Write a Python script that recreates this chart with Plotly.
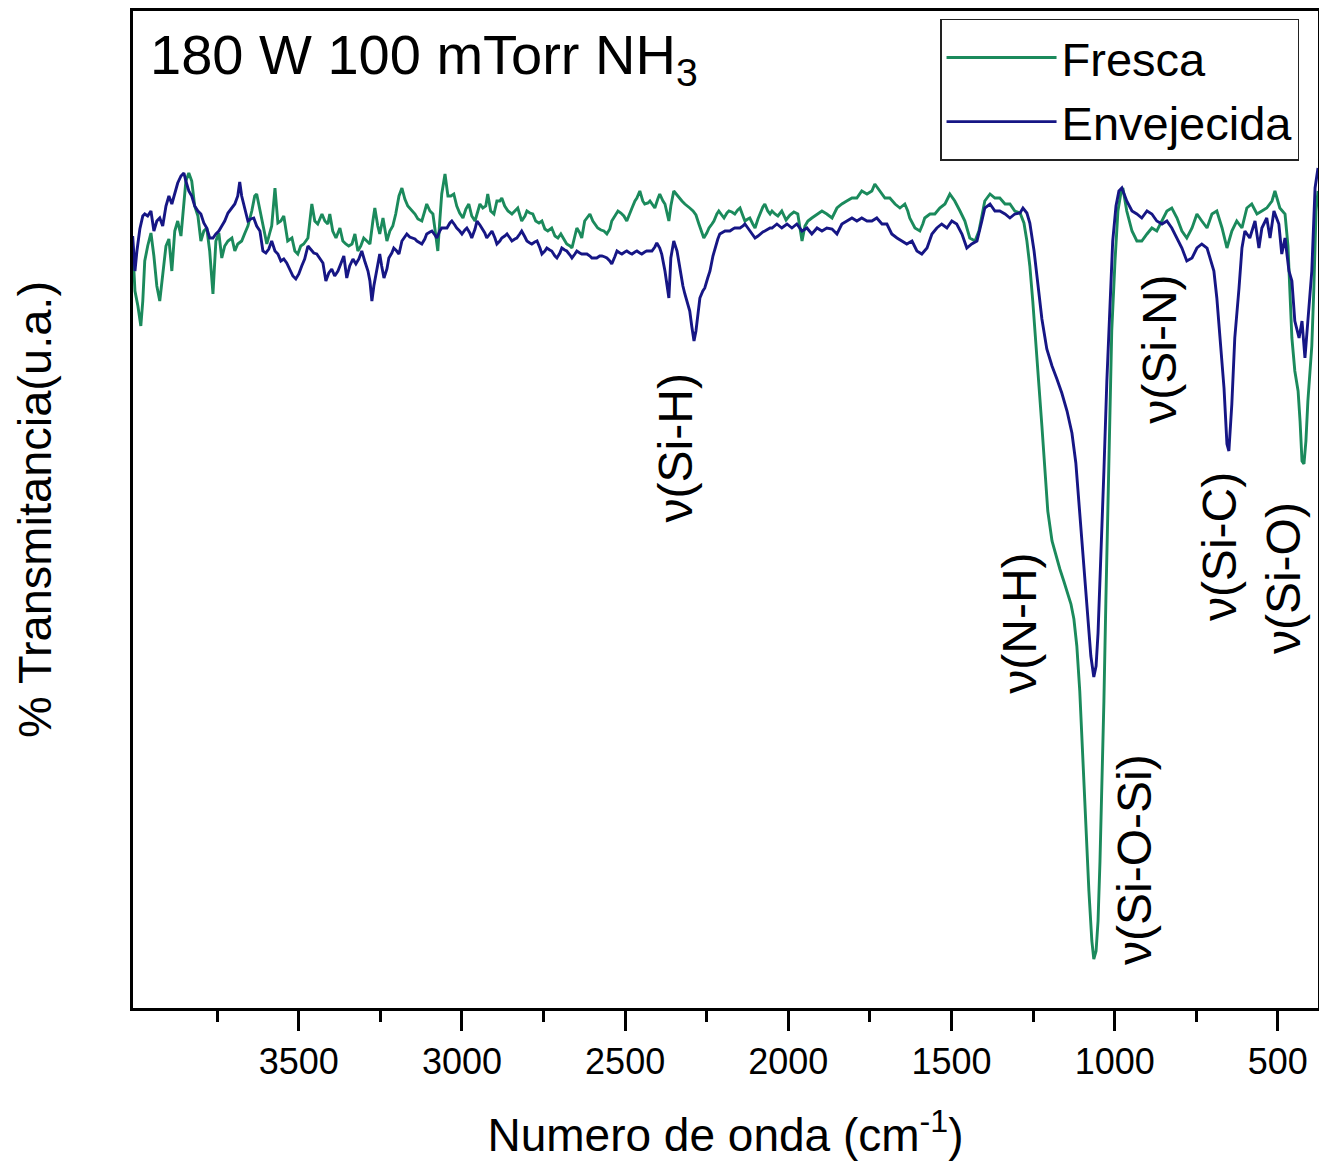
import plotly.graph_objects as go

# Wavenumber (cm^-1) and transmittance (a.u.)
wn_fresca = [4009,4002,3993,3984,3978,3972,3963,3953,3944,3935,3926,3917,3907,3898,3889,3880,3871,3861,3852,3846,
 3837,3828,3819,3809,3800,3791,3782,3773,3763,3754,3745,3736,3727,3717,3705,3696,3687,3675,3665,3656,
 3644,3635,3629,3619,3610,3598,3589,3583,3573,3564,3555,3546,3534,3521,3512,3503,3494,3485,3472,3460,
 3451,3442,3429,3420,3411,3405,3396,3386,3374,3365,3356,3347,3337,3328,3319,3310,3301,3291,3282,3273,
 3267,3258,3252,3242,3230,3221,3212,3203,3193,3184,3175,3166,3154,3144,3135,3123,3114,3108,3098,3089,
 3080,3074,3068,3062,3052,3043,3034,3025,3016,3007,2997,2988,2979,2970,2960,2951,2945,2936,2927,2921,
 2912,2902,2893,2884,2878,2869,2859,2847,2838,2829,2817,2807,2801,2792,2783,2774,2764,2755,2746,2737,
 2725,2715,2706,2697,2688,2679,2669,2663,2654,2648,2639,2633,2624,2614,2608,2599,2593,2584,2574,2565,
 2556,2547,2541,2532,2522,2513,2504,2495,2486,2479,2470,2464,2455,2446,2440,2430,2424,2415,2409,2400,
 2394,2384,2378,2366,2360,2351,2341,2335,2326,2317,2308,2302,2292,2283,2274,2265,2259,2250,2243,2234,
 2228,2219,2213,2204,2197,2188,2182,2173,2164,2155,2148,2139,2133,2124,2118,2109,2102,2093,2087,2078,
 2072,2063,2056,2050,2041,2032,2020,2007,1995,1983,1971,1958,1949,1940,1928,1912,1897,1882,1866,1851,
 1836,1821,1805,1790,1775,1759,1744,1735,1726,1719,1704,1689,1673,1658,1643,1634,1628,1612,1597,1588,
 1582,1566,1551,1536,1520,1505,1496,1490,1474,1459,1444,1428,1416,1407,1398,1382,1367,1352,1336,1321,
 1306,1290,1278,1269,1260,1251,1241,1232,1223,1214,1205,1192,1180,1168,1156,1143,1134,1125,1116,1107,
 1097,1088,1079,1070,1064,1057,1051,1045,1039,1033,1027,1021,1015,1009,999,990,981,975,963,947,
 932,917,901,886,871,855,840,825,809,794,779,763,748,733,717,702,687,671,656,641,
 626,610,595,580,564,549,534,518,509,494,478,469,463,457,448,438,432,426,420,414,
 408,402,396,390,383,377]
t_fresca = [75.5,71.0,69.5,67.5,70.0,74.0,75.5,76.8,74.5,71.5,70.0,72.5,75.5,76.2,73.0,77.0,78.0,76.5,79.5,82.0,
 82.8,82.0,79.5,78.5,76.0,77.0,77.3,75.0,70.7,76.0,76.8,74.3,75.5,76.0,76.3,75.0,75.7,76.0,76.8,77.5,
 79.0,80.5,80.7,79.0,77.5,75.7,76.8,77.5,81.3,77.8,78.0,78.5,76.0,76.3,75.0,74.7,75.5,75.7,76.3,79.7,
 78.0,77.7,78.7,78.0,77.7,78.7,77.0,76.3,77.3,76.0,75.7,75.5,75.7,76.7,75.0,75.5,76.3,76.0,75.7,78.0,
 79.3,77.5,76.7,78.3,76.0,77.0,77.5,78.7,80.5,81.3,80.2,79.5,79.0,78.7,78.2,78.0,79.0,79.7,79.0,78.7,
 76.5,75.0,78.0,80.7,82.7,80.5,80.5,80.7,79.5,78.8,78.3,79.2,79.7,78.5,78.0,79.0,79.7,79.3,79.5,80.7,
 79.0,78.7,80.0,80.0,80.3,79.5,79.0,78.7,79.0,79.3,78.0,78.5,79.0,78.8,78.7,78.0,77.8,78.0,77.2,77.0,
 77.3,76.5,76.3,76.7,76.2,75.7,75.5,75.3,76.5,77.3,76.8,76.3,78.0,78.5,78.7,78.0,77.7,77.3,77.1,77.0,
 76.7,77.2,78.0,78.5,79.0,78.8,78.5,78.0,78.8,79.3,80.0,80.3,81.0,80.0,79.7,79.8,80.0,79.6,79.3,80.2,
 80.7,80.0,79.7,78.0,79.5,81.0,80.6,80.3,80.0,79.7,79.4,79.3,79.0,78.6,77.7,76.8,76.3,76.8,77.3,77.7,
 78.0,78.7,79.0,78.6,78.3,78.8,79.0,78.9,78.7,79.1,79.3,78.5,78.0,78.2,78.3,77.7,77.3,78.2,78.7,79.4,
 79.7,79.0,78.7,79.0,78.7,78.5,79.0,78.1,78.6,78.9,78.7,76.0,77.5,78.0,78.3,78.7,79.0,78.7,78.3,79.3,
 79.7,80.0,80.3,80.3,81.0,80.7,81.0,81.7,81.3,81.0,80.3,80.3,79.7,79.3,79.7,79.0,78.3,77.3,77.0,77.7,
 78.3,78.7,78.7,79.3,79.7,80.7,80.3,80.0,79.0,78.0,76.3,76.0,77.0,78.7,80.0,80.7,80.3,80.3,79.7,79.7,
 79.0,78.8,77.8,76.0,73.5,70.0,66.0,61.5,57.5,53.0,49.0,46.0,44.5,43.2,42.0,40.7,39.7,38.2,35.5,31.0,
 24.0,17.0,11.0,6.0,4.2,5.0,8.0,14.0,21.0,30.0,40.0,50.0,59.0,67.0,74.0,79.0,80.8,81.3,79.0,77.0,
 76.0,76.0,76.7,77.3,77.0,78.0,79.0,79.3,78.3,77.0,76.3,77.3,78.7,78.0,77.3,78.7,79.0,77.3,75.3,77.0,
 78.0,77.3,79.3,79.7,78.7,79.0,79.3,80.0,81.0,79.3,78.7,75.5,71.0,66.3,63.0,61.0,58.0,54.0,53.7,56.0,
 60.0,63.0,65.5,71.0,79.0,81.0]

wn_envejecida = [4009,4002,3996,3987,3978,3972,3963,3953,3944,3935,3926,3917,3907,3898,3889,3880,3871,3861,3852,3846,
 3837,3828,3819,3809,3800,3791,3782,3773,3763,3754,3745,3736,3727,3717,3708,3696,3687,3681,3675,3665,
 3656,3647,3638,3629,3619,3610,3601,3592,3583,3573,3564,3555,3546,3537,3528,3518,3509,3500,3491,3482,
 3472,3463,3454,3445,3436,3426,3417,3408,3399,3390,3380,3371,3362,3353,3344,3334,3325,3316,3307,3298,
 3288,3282,3276,3270,3261,3252,3246,3239,3230,3224,3215,3209,3200,3193,3184,3175,3169,3160,3154,3144,
 3138,3129,3123,3114,3108,3098,3092,3083,3077,3068,3062,3052,3046,3037,3031,3022,3016,3007,3000,2991,
 2985,2976,2970,2960,2954,2945,2939,2930,2924,2915,2908,2899,2893,2884,2878,2869,2862,2853,2847,2838,
 2832,2823,2817,2807,2801,2792,2786,2777,2770,2761,2755,2746,2740,2731,2725,2715,2709,2700,2694,2685,
 2679,2669,2663,2654,2648,2639,2633,2624,2617,2608,2602,2593,2587,2578,2571,2562,2556,2547,2541,2532,
 2525,2516,2510,2501,2495,2486,2479,2470,2464,2455,2449,2440,2434,2424,2418,2409,2403,2394,2388,2378,
 2372,2366,2360,2351,2341,2332,2323,2317,2308,2302,2296,2289,2283,2280,2271,2262,2256,2247,2240,2231,
 2225,2216,2210,2201,2194,2185,2179,2170,2164,2155,2148,2139,2133,2124,2118,2109,2102,2093,2087,2078,
 2072,2063,2056,2050,2035,2020,2004,1989,1974,1958,1943,1928,1912,1897,1882,1866,1851,1836,1821,1805,
 1790,1775,1759,1744,1729,1713,1698,1683,1667,1652,1637,1621,1606,1591,1575,1560,1545,1530,1514,1499,
 1484,1468,1453,1438,1422,1407,1398,1382,1367,1352,1336,1321,1306,1290,1281,1269,1260,1247,1235,1223,
 1208,1192,1177,1162,1146,1131,1119,1107,1094,1082,1073,1064,1057,1051,1042,1033,1024,1015,1006,996,
 987,978,963,947,932,917,901,886,871,855,840,825,809,794,779,763,748,733,717,708,
 696,687,678,665,656,650,641,632,619,610,601,586,570,558,549,534,524,512,497,488,
 478,466,457,448,435,426,417,405,396,386,377]
t_envejecida = [76.5,73.0,75.0,77.2,78.5,78.7,78.5,79.0,77.0,78.0,78.3,77.5,79.5,80.5,79.7,80.7,81.8,82.5,82.8,82.0,
 81.0,80.5,79.5,79.0,78.7,77.8,77.3,76.3,76.3,76.7,77.0,77.5,78.0,78.8,79.2,79.7,80.5,81.9,80.5,79.0,
 78.0,78.2,78.3,77.5,77.0,75.0,74.8,75.2,76.0,75.0,74.7,74.0,74.2,73.8,73.2,72.5,72.2,72.7,73.5,74.2,
 75.5,75.2,74.8,74.7,74.3,73.8,72.0,72.8,73.2,72.5,73.0,73.8,74.5,72.3,73.5,74.2,73.7,74.2,75.0,74.0,
 73.0,72.0,70.0,71.5,73.3,74.7,73.5,72.3,73.2,74.3,74.8,75.3,75.0,74.7,76.0,76.5,76.7,76.4,76.3,76.2,
 76.0,75.8,75.7,76.2,76.7,76.9,77.0,76.6,76.3,77.0,77.3,77.3,77.3,77.8,78.0,77.6,77.3,77.0,76.7,77.1,
 77.3,76.8,76.3,77.2,78.0,77.6,77.3,76.8,76.3,76.7,77.0,76.3,75.7,76.0,76.3,76.5,76.7,76.3,76.0,76.2,
 76.3,76.7,77.0,76.4,76.0,75.8,75.7,75.9,76.0,75.3,74.7,75.0,75.3,75.1,75.0,74.5,74.3,74.8,75.3,75.1,
 75.0,74.6,74.3,74.7,75.0,74.8,74.7,74.7,74.7,74.5,74.3,74.3,74.3,74.5,74.5,74.4,74.3,74.0,73.7,74.4,
 75.0,74.8,74.7,74.9,75.0,74.8,74.7,74.9,75.0,74.8,74.7,74.9,75.0,75.0,75.0,75.4,75.8,75.3,74.7,73.0,
 71.5,70.3,74.3,76.0,75.0,73.0,71.5,70.7,69.7,69.0,67.5,66.0,67.0,67.7,70.3,71.0,71.3,72.3,73.0,74.5,
 75.3,76.2,76.7,76.9,77.0,77.0,77.0,77.2,77.3,77.3,77.3,77.5,77.7,77.3,77.0,76.6,76.3,76.5,76.7,76.9,
 77.0,77.2,77.3,77.3,77.7,77.3,77.7,77.3,77.7,77.0,77.3,76.7,77.3,77.0,77.3,77.2,76.7,77.7,78.0,78.3,
 78.0,78.3,78.0,78.0,78.3,77.7,77.7,76.7,76.3,76.0,75.7,76.0,75.0,74.7,75.3,76.7,77.3,77.7,77.3,78.0,
 77.7,76.7,75.3,75.7,76.0,78.0,79.3,79.7,79.0,79.0,78.7,78.3,78.7,78.8,79.3,78.8,77.8,75.0,71.5,68.2,
 65.2,63.5,62.2,60.8,59.0,56.8,53.8,49.0,43.8,38.5,34.5,32.4,33.5,36.8,44.0,53.0,62.0,70.0,76.0,79.5,
 81.0,81.3,80.0,79.0,78.7,78.3,79.0,78.7,78.0,77.7,78.0,77.3,76.3,75.3,74.0,74.3,75.3,75.7,75.3,74.3,
 73.0,70.3,66.3,61.3,55.7,55.0,59.7,66.3,71.3,75.3,77.0,76.3,78.0,75.3,77.3,78.3,76.3,79.0,77.7,74.7,
 76.3,73.0,72.0,68.0,66.3,68.0,64.3,69.7,73.0,81.3,83.3]

major_ticks = [3500, 3000, 2500, 2000, 1500, 1000, 500]
minor_ticks = [3750, 3250, 2750, 2250, 1750, 1250, 750]

# Band labels: text, wavenumber, transmittance position
band_text = ["ν(Si-H)", "ν(N-H)", "ν(Si-O-Si)", "ν(Si-N)", "ν(Si-C)", "ν(Si-O)"]
band_wn = [2346, 1294, 941, 865, 680, 484]
band_t = [55.3, 37.8, 14.2, 65.2, 45.4, 42.3]

FONT = "Liberation Sans, Arial, sans-serif"
GREEN = "#1b8a5c"
NAVY = "#161685"

fig = go.Figure()
fig.add_trace(go.Scatter(x=wn_fresca, y=t_fresca, mode="lines", name="Fresca",
                         line=dict(color=GREEN, width=2.9)))
fig.add_trace(go.Scatter(x=wn_envejecida, y=t_envejecida, mode="lines", name="Envejecida",
                         line=dict(color=NAVY, width=2.9)))

for txt, xv, yv in zip(band_text, band_wn, band_t):
    fig.add_annotation(x=xv, y=yv, xref="x", yref="y", text=txt, showarrow=False,
                       textangle=-90, font=dict(family=FONT, size=48, color="black"))

fig.add_annotation(x=0.013, y=0.99, xref="paper", yref="paper", xanchor="left", yanchor="top",
                   text="180 W 100 mTorr NH<sub>3</sub>", showarrow=False,
                   font=dict(family=FONT, size=56, color="black"))

fig.update_layout(
    width=1327, height=1165,
    margin=dict(l=125, r=17, t=3, b=165),
    paper_bgcolor="white", plot_bgcolor="white",
    font=dict(family=FONT, color="black"),
    showlegend=True,
    legend=dict(x=0.984, y=0.992, xanchor="right", yanchor="top",
                bgcolor="white", bordercolor="#222222", borderwidth=1.5,
                font=dict(family=FONT, size=47, color="black"),
                itemwidth=110, tracegroupgap=0),
    xaxis=dict(range=[4008, 377], tickmode="array", tickvals=major_ticks,
               ticktext=[str(v) for v in major_ticks], automargin=False,
               ticks="outside", ticklen=20, tickwidth=2.5, tickcolor="black",
               minor=dict(tickmode="array", tickvals=minor_ticks, ticks="outside",
                          ticklen=11, tickwidth=2.5, tickcolor="black"),
               showline=True, linewidth=3, linecolor="black", mirror=True,
               showgrid=False, zeroline=False,
               tickfont=dict(family=FONT, size=36, color="black"),
               title=dict(text="Numero de onda (cm<sup>-1</sup>)", standoff=38,
                          font=dict(family=FONT, size=46, color="black"))),
    yaxis=dict(range=[-0.7, 99.0], showticklabels=False, ticks="", automargin=False,
               showline=True, linewidth=3, linecolor="black", mirror=True,
               showgrid=False, zeroline=False,
               title=dict(text="% Transmitancia(u.a.)", standoff=71,
                          font=dict(family=FONT, size=47, color="black"))),
)

fig.write_html("out.html")
